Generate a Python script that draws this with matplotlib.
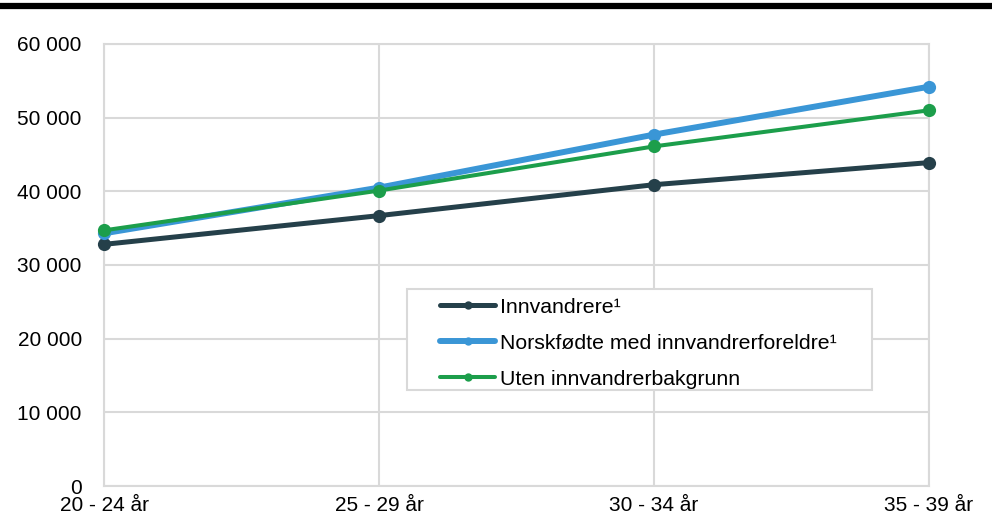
import matplotlib.pyplot as plt
from matplotlib.lines import Line2D
from matplotlib.patches import Rectangle
from matplotlib.ticker import FuncFormatter

plt.rcParams['font.family'] = ['Liberation Sans', 'DejaVu Sans']

# Age groups and average income per group
age_groups = ['20 - 24 år', '25 - 29 år', '30 - 34 år', '35 - 39 år']
innvandrere = [32800, 36700, 40900, 43900]
norskfodte = [34300, 40500, 47700, 54200]
uten_bakgrunn = [34700, 40100, 46100, 51000]

series = [
    ('Innvandrere¹', innvandrere, '#25404a', 3.6),
    ('Norskfødte med innvandrerforeldre¹', norskfodte, '#3a96d6', 4.3),
    ('Uten innvandrerbakgrunn', uten_bakgrunn, '#1c9e4b', 2.9),
]

fig = plt.figure(figsize=(9.92, 5.17), dpi=100)
ax = fig.add_axes([104 / 992, 1 - 486 / 517, 825 / 992, 442 / 517])

x = list(range(len(age_groups)))
for label, vals, color, lw in series:
    ax.plot(x, vals, color=color, linewidth=lw, marker='o', markersize=9.5,
            markeredgewidth=0, label=label, solid_capstyle='round', zorder=3,
            clip_on=False)

ax.set_xlim(0, len(age_groups) - 1)
ax.set_ylim(0, 60000)
ax.set_yticks(range(0, 60001, 10000))
ax.yaxis.set_major_formatter(FuncFormatter(lambda v, p: f'{int(v):,}'.replace(',', ' ')))
ax.set_xticks(x)
ax.set_xticklabels(age_groups)

ax.grid(True, color='#d9d9d9', linewidth=1.5, zorder=0)
for side in ['top', 'right', 'left', 'bottom']:
    ax.spines[side].set_color('#d9d9d9')
    ax.spines[side].set_linewidth(1.5)
ax.tick_params(length=0, labelsize=15, colors='black')
ax.tick_params(axis='y', pad=16)
ax.tick_params(axis='x', pad=7)
ax.set_axisbelow(True)

# Legend box drawn separately so the padding can be set freely
ax.add_patch(Rectangle((0.3673, 0.2172), 0.5636, 0.2285, transform=ax.transAxes,
                       facecolor='white', edgecolor='#d9d9d9', linewidth=1.5,
                       zorder=4))
leg = ax.legend(loc='upper left', bbox_to_anchor=(0.4073, 0.4257), fontsize=15.3,
                frameon=False, handlelength=2.6, handletextpad=0.2,
                labelspacing=0.8, borderpad=0, borderaxespad=0)
leg.set_zorder(5)
for h in leg.legend_handles:
    h.set_markersize(6)

# Heavy rule across the top of the figure
fig.add_artist(Line2D([0, 1], [1 - 6 / 517, 1 - 6 / 517], color='black',
                      linewidth=4.5, transform=fig.transFigure))

fig.savefig('out.png', dpi=100)
